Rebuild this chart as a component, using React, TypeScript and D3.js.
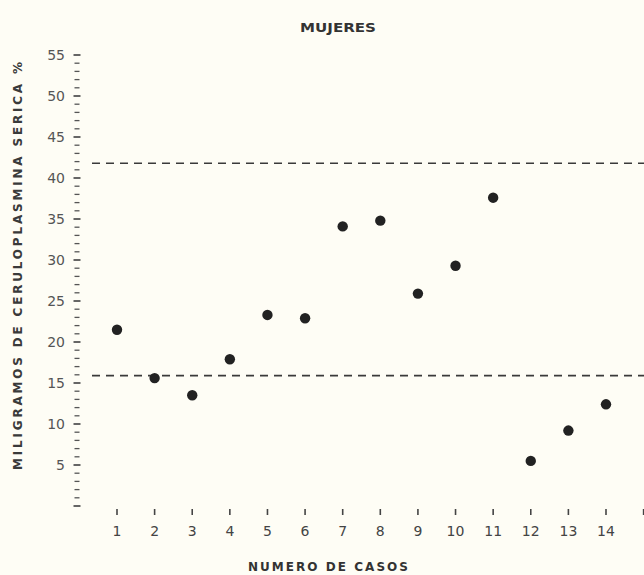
import React, { useRef, useEffect } from 'react';
import * as d3 from 'd3';

// Cases (numero de casos) and serum ceruloplasmin values (mg %)
const cases = [1, 2, 3, 4, 5, 6, 7, 8, 9, 10, 11, 12, 13, 14];
const values = [21.5, 15.6, 13.5, 17.9, 23.3, 22.9, 34.1, 34.8, 25.9, 29.3, 37.6, 5.5, 9.2, 12.4];
const xTicks = [1, 2, 3, 4, 5, 6, 7, 8, 9, 10, 11, 12, 13, 14, 15];
const xTickLabels = ['1', '2', '3', '4', '5', '6', '7', '8', '9', '10', '11', '12', '13', '14', ''];
const yLabelTicks = [5, 10, 15, 20, 25, 30, 35, 40, 45, 50, 55];
const refLines = [41.8, 15.9];

const width = 644;
const height = 575;
const ink = '#333';

const App: React.FC = () => {
  const svgRef = useRef<SVGSVGElement>(null);

  useEffect(() => {
    const svg = d3.select(svgRef.current);
    svg.selectAll('*').remove();

    const font = '"DejaVu Sans", "Liberation Sans", Arial, sans-serif';

    // scales
    const x = d3.scaleLinear().domain([1, 14]).range([117, 606]);
    const y = d3.scaleLinear().domain([0, 55]).range([506, 55]);

    svg.append('rect')
      .attr('width', width)
      .attr('height', height)
      .attr('fill', '#fefdf5');

    // title
    svg.append('text')
      .attr('x', 338)
      .attr('y', 32)
      .attr('text-anchor', 'middle')
      .attr('font-family', font)
      .attr('font-size', 11.5)
      .attr('font-weight', 'bold')
      .attr('fill', ink)
      .attr('textLength', 76)
      .attr('lengthAdjust', 'spacingAndGlyphs')
      .text('MUJERES');

    // y ruler: a tick per unit, longer ones every 5
    const axisX = 77;
    const units = d3.range(0, 56);
    svg.append('g')
      .selectAll('line')
      .data(units)
      .enter()
      .append('line')
      .attr('x1', d => (d % 5 === 0 ? axisX - 3.5 : axisX - 2.5))
      .attr('x2', d => (d % 5 === 0 ? axisX + 3.5 : axisX + 2.5))
      .attr('y1', d => y(d))
      .attr('y2', d => y(d))
      .attr('stroke', '#555')
      .attr('stroke-width', d => (d % 5 === 0 ? 1.8 : 1.3));

    svg.append('g')
      .selectAll('text')
      .data(yLabelTicks)
      .enter()
      .append('text')
      .attr('x', 65)
      .attr('y', d => y(d))
      .attr('dy', '0.36em')
      .attr('text-anchor', 'end')
      .attr('font-family', font)
      .attr('font-size', 14)
      .attr('fill', '#555')
      .text(d => d);

    svg.append('text')
      .attr('transform', 'translate(22,266) rotate(-90)')
      .attr('text-anchor', 'middle')
      .attr('font-family', font)
      .attr('font-size', 12)
      .attr('font-weight', 'bold')
      .attr('fill', '#3a3a3a')
      .attr('textLength', 408)
      .attr('lengthAdjust', 'spacing')
      .text('MILIGRAMOS DE CERULOPLASMINA SERICA %');

    // x ticks and labels
    const xg = svg.append('g');
    xg.selectAll('line')
      .data(xTicks)
      .enter()
      .append('line')
      .attr('x1', d => x(d))
      .attr('x2', d => x(d))
      .attr('y1', 509)
      .attr('y2', 515)
      .attr('stroke', '#444')
      .attr('stroke-width', 1.6);

    xg.selectAll('text')
      .data(xTicks)
      .enter()
      .append('text')
      .attr('x', d => x(d))
      .attr('y', 536)
      .attr('text-anchor', 'middle')
      .attr('font-family', font)
      .attr('font-size', 14)
      .attr('fill', '#444')
      .text((d, i) => xTickLabels[i]);

    svg.append('text')
      .attr('x', 328)
      .attr('y', 571)
      .attr('text-anchor', 'middle')
      .attr('font-family', font)
      .attr('font-size', 12)
      .attr('font-weight', 'bold')
      .attr('fill', ink)
      .attr('textLength', 160)
      .attr('lengthAdjust', 'spacing')
      .text('NUMERO DE CASOS');

    // normal-range dashed lines
    svg.append('g')
      .selectAll('line')
      .data(refLines)
      .enter()
      .append('line')
      .attr('x1', 92)
      .attr('x2', width)
      .attr('y1', d => y(d))
      .attr('y2', d => y(d))
      .attr('stroke', '#3a3a3a')
      .attr('stroke-width', 1.7)
      .attr('stroke-dasharray', '8,6');

    // points
    svg.append('g')
      .selectAll('circle')
      .data(cases)
      .enter()
      .append('circle')
      .attr('cx', d => x(d))
      .attr('cy', (d, i) => y(values[i]))
      .attr('r', 5.2)
      .attr('fill', '#222');
  }, []);

  return (
    <svg
      ref={svgRef}
      width={width}
      height={height}
      style={{ position: 'absolute', left: 0, top: 0, display: 'block' }}
    />
  );
};

export default App;
